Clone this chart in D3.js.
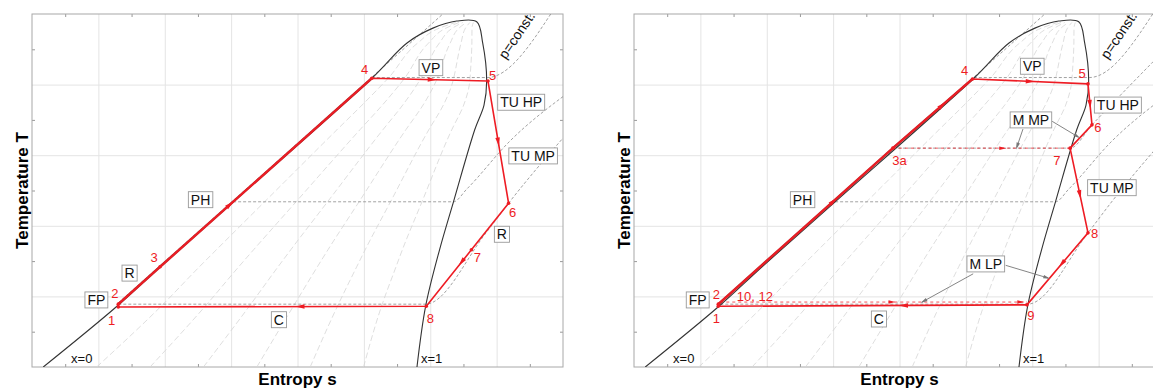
<!DOCTYPE html>
<html>
<head>
<meta charset="utf-8">
<script src="https://cdn.jsdelivr.net/npm/d3@7"></script>
<style>
  body { margin: 0; background: #fff; }
  text { font-family: Arial, "Liberation Sans", sans-serif; }
</style>
</head>
<body>
<div id="chart"></div>
<script>
// ---- data (entropy s, temperature T, arbitrary units) ----
// saturation dome
const liquidS = [0.17, 1.28, 1.93, 3.03, 5.12, 5.65, 6.04, 6.40];
const liquidT = [0, 0.86, 1.42, 2.34, 4.09, 4.59, 4.80, 4.90];
const vaporS = [6.70, 6.79, 6.85, 6.81, 6.67, 6.35, 6.14, 5.93, 5.80];
const vaporT = [4.89, 4.59, 4.05, 3.71, 3.36, 2.34, 1.66, 0.86, 0];
const qualityLevels = [1 / 7, 2 / 7, 3 / 7, 4 / 7, 5 / 7, 6 / 7];

// isobars (p = const.)
const isoCompS = [1.30, 6.19];
const isoCompT = [0.91, 5.0];
const isoHighS = [5.12, 6.86, 7.85];
const isoHighT = [4.10, 4.10, 5.05];
const isoMidS = [3.03, 6.35, 6.55, 7.20, 8.10];
const isoMidT = [2.34, 2.34, 2.52, 3.20, 3.90];
const isoLowS = [1.30, 5.93, 6.84, 7.18, 8.10];
const isoLowT = [0.89, 0.89, 1.90, 2.32, 3.35];
const isoExtrS = [3.90, 6.57, 6.90, 7.90];
const isoExtrT = [3.10, 3.10, 3.43, 4.40];

// cycle A (left)
const cycleAIds = ["1", "2", "3", "4", "5", "6", "7", "8"];
const cycleAS = [1.30, 1.30, 1.93, 5.12, 6.87, 7.18, 6.62, 5.94];
const cycleAT = [0.85, 0.89, 1.42, 4.09, 4.05, 2.32, 1.66, 0.86];
const cycleAArrows = [["3", "4", 0.33], ["4", "5", 0.52], ["5", "6", 0.5], ["7", "8", 0.22], ["8", "1", 0.41]];
const cycleALabels = ["FP", "R", "PH", "VP", "TU HP", "TU MP", "R", "C"];
const cycleALabelS = [0.97, 1.47, 2.54, 6.01, 7.37, 7.55, 7.08, 3.72];
const cycleALabelT = [0.95, 1.33, 2.37, 4.24, 3.75, 2.99, 1.88, 0.67];
const cycleANumS = [1.20, 1.25, 1.84, 5.01, 6.94, 7.24, 6.71, 6.00];
const cycleANumT = [0.67, 1.05, 1.56, 4.22, 4.14, 2.20, 1.56, 0.69];

// cycle B (right)
const cycleBIds = ["1", "2", "3a", "4", "5", "6", "7", "8", "9", "10, 12"];
const cycleBS = [1.27, 1.27, 3.90, 5.10, 6.84, 6.90, 6.57, 6.84, 5.92, 1.30];
const cycleBT = [0.86, 0.89, 3.10, 4.08, 4.01, 3.43, 3.10, 1.90, 0.88, 0.92];
const cycleBArrows = [["2", "3a", 0.66], ["3a", "4", 0.62], ["4", "5", 0.5], ["5", "6", 0.5],
  ["7", "8", 0.55], ["8", "9", 0.43], ["9", "1", 0.40]];
const cycleBMixArrows = [["3a", "7", 0.62], ["10, 12", "9", 0.56], ["10, 12", "9", 0.98]];
const cycleBLabels = ["FP", "PH", "VP", "TU HP", "M MP", "TU MP", "M LP", "C"];
const cycleBLabelS = [0.96, 2.54, 6.00, 7.29, 5.98, 7.20, 5.30, 3.69];
const cycleBLabelT = [0.95, 2.37, 4.26, 3.71, 3.50, 2.54, 1.46, 0.68];
const cycleBNumS = [1.24, 1.24, 4.00, 4.98, 6.75, 6.99, 6.37, 6.94, 5.98, 1.82];
const cycleBNumT = [0.69, 1.03, 2.93, 4.21, 4.16, 3.40, 2.93, 1.90, 0.74, 1.00];
// leader lines: start s, start T, end s, end T
const leaderS0 = [6.30, 5.86, 5.60, 5.11];
const leaderT0 = [3.48, 3.37, 1.44, 1.32];
const leaderS1 = [6.69, 5.77, 6.24, 4.34];
const leaderT1 = [3.26, 3.12, 1.26, 0.92];

// ---- layout ----
const width = 1153, height = 389;
const plotW = 531, plotTop = 14, plotBottom = 367;
const panelLeft = [32, 634];
const red = "#ee1c24";

const svg = d3.select("#chart").append("svg")
  .attr("width", width).attr("height", height);

const zip = (a, b) => a.map((v, i) => [v, b[i]]);
const pline = d3.line();

function interpAt(sArr, tArr, T) {
  const pts = zip(sArr, tArr).sort((p, q) => p[1] - q[1]);
  for (let i = 0; i < pts.length - 1; i++) {
    const [s0, t0] = pts[i], [s1, t1] = pts[i + 1];
    if (T >= t0 && T <= t1) return s0 + (s1 - s0) * (T - t0) / (t1 - t0 || 1);
  }
  return pts[pts.length - 1][0];
}

function arrowHead(g, p0, p1, t, color, size) {
  const x = p0[0] + (p1[0] - p0[0]) * t, y = p0[1] + (p1[1] - p0[1]) * t;
  const ang = Math.atan2(p1[1] - p0[1], p1[0] - p0[0]) * 180 / Math.PI;
  g.append("path")
    .attr("d", `M${size},0L${-size},${-size * 0.5}L${-size},${size * 0.5}Z`)
    .attr("transform", `translate(${x},${y}) rotate(${ang})`)
    .attr("fill", color);
}

function boxLabel(g, x, y, txt) {
  const t = g.append("text").attr("x", x).attr("y", y + 5)
    .attr("text-anchor", "middle").attr("font-size", 14).attr("fill", "#111").text(txt);
  const bb = t.node().getBBox();
  g.insert("rect", () => t.node())
    .attr("x", bb.x - 2.5).attr("y", y - 8).attr("width", bb.width + 5).attr("height", 16)
    .attr("fill", "#fff").attr("stroke", "#999").attr("stroke-width", 0.9);
}

function drawPanel(idx) {
  const left = panelLeft[idx];
  const x = d3.scaleLinear().domain([0, 8]).range([left, left + plotW]);
  const y = d3.scaleLinear().domain([0, 5]).range([plotBottom, plotTop]);
  const line = d3.line().x(d => x(d[0])).y(d => y(d[1]));
  const g = svg.append("g");
  const clipId = "clip" + idx;
  g.append("clipPath").attr("id", clipId).append("rect")
    .attr("x", left).attr("y", plotTop).attr("width", plotW).attr("height", plotBottom - plotTop);

  // grid
  g.append("g").attr("transform", `translate(0,${plotBottom})`)
    .call(d3.axisBottom(x).tickValues(d3.range(1, 8)).tickSize(-(plotBottom - plotTop)).tickFormat(""))
    .call(a => a.select(".domain").remove())
    .selectAll("line").attr("stroke", "#e4e4e4");
  g.append("g").attr("transform", `translate(${left},0)`)
    .call(d3.axisLeft(y).tickValues(d3.range(1, 5)).tickSize(-plotW).tickFormat(""))
    .call(a => a.select(".domain").remove())
    .selectAll("line").attr("stroke", "#e4e4e4");

  // inward minor ticks on all four sides
  const half = d3.range(0.5, 8, 1), halfT = d3.range(0.5, 5, 1);
  const tickAxes = [
    [d3.axisBottom(x).tickValues(half), `translate(0,${plotBottom})`],
    [d3.axisTop(x).tickValues(half), `translate(0,${plotTop})`],
    [d3.axisLeft(y).tickValues(halfT), `translate(${left},0)`],
    [d3.axisRight(y).tickValues(halfT), `translate(${left + plotW},0)`]
  ];
  tickAxes.forEach(([ax, tr]) => {
    g.append("g").attr("transform", tr)
      .call(ax.tickSize(-3).tickFormat("").tickSizeOuter(0))
      .call(a => a.select(".domain").remove())
      .selectAll("line").attr("stroke", "#999");
  });
  g.append("rect").attr("x", left).attr("y", plotTop).attr("width", plotW)
    .attr("height", plotBottom - plotTop).attr("fill", "none").attr("stroke", "#a8a8a8");

  const pc = g.append("g").attr("clip-path", `url(#${clipId})`);

  // quality lines (mixtures between the saturation branches)
  const tMax = 4.88;
  const tLevels = d3.sort(Array.from(new Set(liquidT.concat(vaporT).filter(t => t <= tMax))).concat([tMax]));
  qualityLevels.forEach(q => {
    const pts = tLevels.map(T => {
      const sf = interpAt(liquidS, liquidT, T), sg = interpAt(vaporS, vaporT, T);
      return [sf + q * (sg - sf), T];
    });
    pc.append("path").attr("d", line.curve(d3.curveMonotoneY)(pts))
      .attr("fill", "none").attr("stroke", "#d6d6d6").attr("stroke-width", 0.8)
      .attr("stroke-dasharray", "6,3");
  });
  line.curve(d3.curveLinear);

  // isobars
  const isobars = [[isoCompS, isoCompT], [isoHighS, isoHighT], [isoMidS, isoMidT], [isoLowS, isoLowT]];
  if (idx === 1) isobars.push([isoExtrS, isoExtrT]);
  isobars.forEach(([s, t]) => {
    pc.append("path").attr("d", d3.line().x(d => x(d[0])).y(d => y(d[1])).curve(d3.curveMonotoneX)(zip(s, t)))
      .attr("fill", "none").attr("stroke", "#8a8a8a").attr("stroke-width", 0.8)
      .attr("stroke-dasharray", "3,2");
  });

  // saturation dome
  const dome = zip(liquidS, liquidT).concat(zip(vaporS, vaporT));
  pc.append("path")
    .attr("d", d3.line().x(d => x(d[0])).y(d => y(d[1])).curve(d3.curveCatmullRom.alpha(0.5))(dome))
    .attr("fill", "none").attr("stroke", "#333").attr("stroke-width", 1.1);

  // cycle
  const ids = idx === 0 ? cycleAIds : cycleBIds;
  const S = idx === 0 ? cycleAS : cycleBS, T = idx === 0 ? cycleAT : cycleBT;
  const P = {};
  ids.forEach((id, i) => P[id] = [x(S[i]), y(T[i])]);
  const seq = idx === 0 ? ["1", "2", "3", "4", "5", "6", "7", "8", "1"]
    : ["1", "2", "3a", "4", "5", "6", "7", "8", "9", "1"];
  const ph = idx === 0 ? ["2", "3", "4"] : ["2", "3a", "4"];

  if (idx === 1) {
    [["3a", "7"], ["10, 12", "9"]].forEach(([a, b]) => {
      const p1 = b === "9" ? [P["9"][0], P["10, 12"][1]] : P[b];
      pc.append("line").attr("x1", P[a][0]).attr("y1", P[a][1]).attr("x2", p1[0]).attr("y2", p1[1])
        .attr("stroke", red).attr("stroke-width", 1).attr("stroke-dasharray", "3,3").attr("opacity", 0.75);
    });
    cycleBMixArrows.forEach(([a, b, t]) => {
      const p1 = b === "9" ? [P["9"][0], P["10, 12"][1]] : P[b];
      arrowHead(pc, P[a], p1, t, red, 3.5);
    });
    // leader lines
    leaderS0.forEach((s0, i) => {
      const p0 = [x(s0), y(leaderT0[i])], p1 = [x(leaderS1[i]), y(leaderT1[i])];
      g.append("line").attr("x1", p0[0]).attr("y1", p0[1]).attr("x2", p1[0]).attr("y2", p1[1])
        .attr("stroke", "#777").attr("stroke-width", 0.9);
      arrowHead(g, p0, p1, 0.97, "#777", 3.5);
    });
  }

  pc.append("path").attr("d", pline(ph.map(id => P[id])))
    .attr("fill", "none").attr("stroke", "#c4262b").attr("stroke-width", 2.6);
  pc.append("path").attr("d", pline(seq.map(id => P[id])))
    .attr("fill", "none").attr("stroke", red).attr("stroke-width", 1.6).attr("stroke-linejoin", "round");

  (idx === 0 ? cycleAArrows : cycleBArrows).forEach(([a, b, t]) => arrowHead(pc, P[a], P[b], t, red, 4.5));
  ids.forEach(id => {
    if (id === "10, 12") return;
    pc.append("circle").attr("cx", P[id][0]).attr("cy", P[id][1]).attr("r", 1.8).attr("fill", red);
  });

  // point numbers
  const numS = idx === 0 ? cycleANumS : cycleBNumS, numT = idx === 0 ? cycleANumT : cycleBNumT;
  ids.forEach((id, i) => {
    g.append("text").attr("x", x(numS[i])).attr("y", y(numT[i]) + 5)
      .attr("text-anchor", "middle").attr("font-size", 13).attr("fill", red).text(id);
  });

  // process labels
  const labs = idx === 0 ? cycleALabels : cycleBLabels;
  const labS = idx === 0 ? cycleALabelS : cycleBLabelS, labT = idx === 0 ? cycleALabelT : cycleBLabelT;
  labs.forEach((txt, i) => boxLabel(g, x(labS[i]), y(labT[i]), txt));

  // quality marks and p = const.
  g.append("text").attr("x", x(0.75)).attr("y", y(0.13) + 5).attr("text-anchor", "middle")
    .attr("font-size", 13).attr("fill", "#111").text("x=0");
  g.append("text").attr("x", x(5.86)).attr("y", y(0.13) + 5)
    .attr("font-size", 13).attr("fill", "#111").text("x=1");
  g.append("text").attr("transform", `translate(${x(7.3)},${y(4.7)}) rotate(-56)`)
    .attr("text-anchor", "middle").attr("dy", 5).attr("font-size", 14).attr("fill", "#111").text("p=const.");

  // axis titles
  svg.append("text").attr("transform", `translate(${left - 4},${(plotTop + plotBottom) / 2}) rotate(-90)`)
    .attr("text-anchor", "middle").attr("font-size", 17).attr("font-weight", "bold").text("Temperature T");
  svg.append("text").attr("x", left + plotW / 2).attr("y", 385)
    .attr("text-anchor", "middle").attr("font-size", 17).attr("font-weight", "bold").text("Entropy s");
}

drawPanel(0);
drawPanel(1);
</script>
</body>
</html>
